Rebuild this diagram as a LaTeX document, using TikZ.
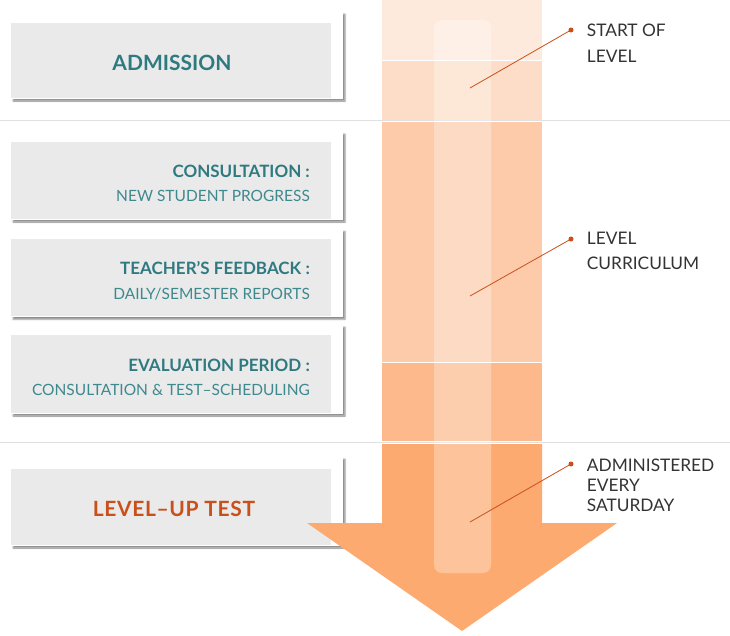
\documentclass[tikz,border=0pt]{standalone}
\usepackage{fontspec}
\setmainfont{Lato}
\usepackage{xcolor}
\usetikzlibrary{positioning, shadows.blur}
\definecolor{tealhead}{HTML}{2F7A80}
\definecolor{tealsub}{HTML}{3E898E}
\definecolor{rust}{HTML}{C94F1B}
\definecolor{panelgrey}{HTML}{EAEAEA}
\definecolor{rulegrey}{HTML}{E0E0E0}
\definecolor{inkgrey}{HTML}{333333}
\definecolor{band1}{HTML}{FEEADD}
\definecolor{band2}{HTML}{FDDDC7}
\definecolor{band3}{HTML}{FDCBAA}
\definecolor{band4}{HTML}{FDB98C}
\definecolor{band5}{HTML}{FDAA71}

\begin{document}
\begin{tikzpicture}[x=1pt, y=-1pt,
  card/.style={fill=white, inner sep=0pt, minimum width=332pt, blur shadow={shadow xshift=2pt, shadow yshift=-2pt, shadow blur steps=4, shadow blur radius=1.5pt, shadow opacity=45}},
  panel/.style={fill=panelgrey, inner sep=0pt, minimum width=320pt},
  head/.style={font=\fontsize{17}{20}\selectfont\bfseries, text=tealhead, inner sep=0pt, anchor=base east},
  sub/.style={font=\fontsize{15.5}{20}\selectfont, text=tealsub, inner sep=0pt, anchor=base east},
  big/.style={font=\fontsize{21}{24}\selectfont\bfseries, inner sep=0pt, anchor=base},
  note/.style={text=inkgrey, align=left, anchor=north west, inner sep=0pt},
  pin/.style={circle, fill=rust, inner sep=0pt, minimum size=5pt},
  lead/.style={draw=rust, line width=0.8pt}
]
    \useasboundingbox (0,0) rectangle (730,635);

    \draw[rulegrey, line width=1pt] (0,120) -- (730,120);
    \draw[rulegrey, line width=1pt] (0,442) -- (730,442);

    \node[card, minimum height=87pt] (admissioncard) at (177,55.5) {};
    \node[panel, minimum height=75pt] (admission) at (171,60.5) {};
    \node[big, text=tealhead] (admissiontxt) at (172,70) {ADMISSION};

    \node[card, minimum height=88pt] (consultcard) at (177,176) {};
    \node[panel, minimum height=77pt] (consult) at (171,180.5) {};
    \node[head] (consulthead) at (310,177.3) {CONSULTATION :};
    \node[sub] (consultsub) at (310,201.7) {NEW STUDENT PROGRESS};

    \node[card, minimum height=88pt] (feedbackcard) at (177,273.3) {};
    \node[panel, minimum height=77pt] (feedback) at (171,277.8) {};
    \node[head] (feedbackhead) at (310,274.3) {TEACHER’S FEEDBACK :};
    \node[sub] (feedbacksub) at (310,299.3) {DAILY/SEMESTER REPORTS};

    \node[card, minimum height=89pt] (evalcard) at (177,369.5) {};
    \node[panel, minimum height=78pt] (eval) at (171,374) {};
    \node[head] (evalhead) at (310,371) {EVALUATION PERIOD :};
    \node[sub] (evalsub) at (310,395) {CONSULTATION \& TEST–SCHEDULING};

    \node[card, minimum height=89pt] (levelupcard) at (177,501.5) {};
    \node[panel, minimum height=76pt] (levelup) at (171,507) {};
    \node[big, text=rust, font=\fontsize{21}{24}\selectfont\bfseries\addfontfeature{LetterSpace=3}] (leveluptxt) at (174,516) {LEVEL–UP TEST};

    \fill[band1] (382,0) rectangle (542,60);
    \fill[band2] (382,61) rectangle (542,119.5);
    \fill[band3] (382,122) rectangle (542,361.5);
    \fill[band4] (382,363) rectangle (542,441.3);
    \fill[band5] (382,444) -- (542,444) -- (542,523) -- (617,523) -- (462,631)
      -- (307,523) -- (382,523) -- cycle;
    \fill[white, fill opacity=0.3, rounded corners=8pt] (434,20) rectangle (491,573);

    \node[pin] (pin1) at (571,30) {};
    \coordinate (end1) at (470,88);
    \draw[lead] (pin1.center) -- (end1);
    \node[note, font=\fontsize{17.3}{26.6}\selectfont] (note1) at (586.7,23.3) {START OF\\LEVEL};

    \node[pin] (pin2) at (571,239) {};
    \coordinate (end2) at (470,296);
    \draw[lead] (pin2.center) -- (end2);
    \node[note, font=\fontsize{17.3}{25}\selectfont] (note2) at (586.7,231.7) {LEVEL\\CURRICULUM};

    \node[pin] (pin3) at (571,464) {};
    \coordinate (end3) at (470,522);
    \draw[lead] (pin3.center) -- (end3);
    \node[note, font=\fontsize{17.3}{20}\selectfont] (note3) at (586.7,458.3) {ADMINISTERED\\EVERY\\SATURDAY};
\end{tikzpicture}
\end{document}
